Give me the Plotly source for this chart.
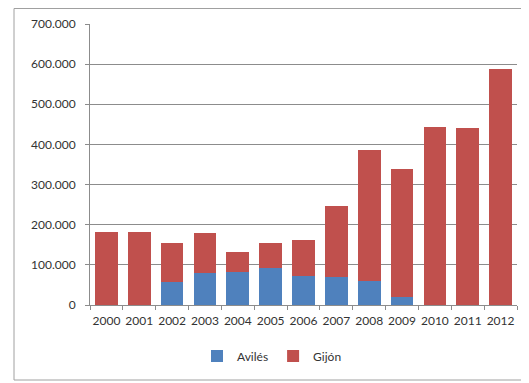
import plotly.graph_objects as go

years = ["2000", "2001", "2002", "2003", "2004", "2005", "2006", "2007", "2008", "2009", "2010", "2011", "2012"]
totals = [182000, 182000, 155000, 179000, 131000, 155000, 161000, 246000, 387000, 339000, 444000, 441000, 588000]
aviles = [0, 0, 58000, 79000, 82000, 91000, 73000, 70000, 59000, 20000, 0, 0, 0]
gijon = [t - a for t, a in zip(totals, aviles)]
yticks = [0, 100000, 200000, 300000, 400000, 500000, 600000, 700000]

OFF = 8  # page body margin
W, H = 529 - OFF, 383 - OFF
L, T = 90 - OFF, 24 - OFF
pw, ph = 427, 281
R = W - L - pw
B = H - T - ph

def px_x(p):
    return (p - OFF - L) / pw

def px_y(p):
    return (T + ph - (p - OFF)) / ph

border = dict(color="#a0a0a0", width=1)

fig = go.Figure()
fig.add_trace(go.Bar(x=years, y=aviles, name="Avilés", marker=dict(color="#4F81BD", line=dict(width=0))))
fig.add_trace(go.Bar(x=years, y=gijon, name="Gijón", marker=dict(color="#C0504D", line=dict(width=0))))

fig.update_layout(
    width=W, height=H,
    barmode="stack", bargap=0.31,
    separators=",.",
    margin=dict(l=L, r=R, t=T, b=B, pad=0, autoexpand=False),
    paper_bgcolor="white", plot_bgcolor="white",
    font=dict(family="Lato, Liberation Sans, sans-serif", size=12, color="#333333"),
    showlegend=True,
    legend=dict(orientation="h", x=px_x(272), xanchor="center", y=px_y(356), yanchor="middle",
                font=dict(size=12), itemwidth=30, traceorder="normal"),
    xaxis=dict(type="category", showline=True, linecolor="#8c8c8c", linewidth=1,
               ticks="outside", tickson="boundaries", ticklen=4, tickcolor="#8c8c8c",
               showgrid=False, tickangle=0, tickfont=dict(size=12), automargin=False,
               ticklabelstandoff=5),
    yaxis=dict(range=[0, 700000], tickvals=yticks, tickformat=",d", showline=True,
               linecolor="#8c8c8c", linewidth=1, ticks="outside", ticklen=4, tickcolor="#8c8c8c",
               showgrid=True, gridcolor="#8c8c8c", gridwidth=1, zeroline=False,
               tickfont=dict(size=12), automargin=False, ticklabelstandoff=7),
    shapes=[
        dict(type="line", xref="paper", yref="paper", x0=px_x(14), x1=px_x(540),
             y0=px_y(8.5), y1=px_y(8.5), line=border, layer="below"),
        dict(type="line", xref="paper", yref="paper", x0=px_x(14), x1=px_x(540),
             y0=px_y(380), y1=px_y(380), line=border, layer="below"),
        dict(type="line", xref="paper", yref="paper", x0=px_x(14), x1=px_x(14),
             y0=px_y(380), y1=px_y(8.5), line=border, layer="below"),
    ],
)

fig.write_html("out.html")
